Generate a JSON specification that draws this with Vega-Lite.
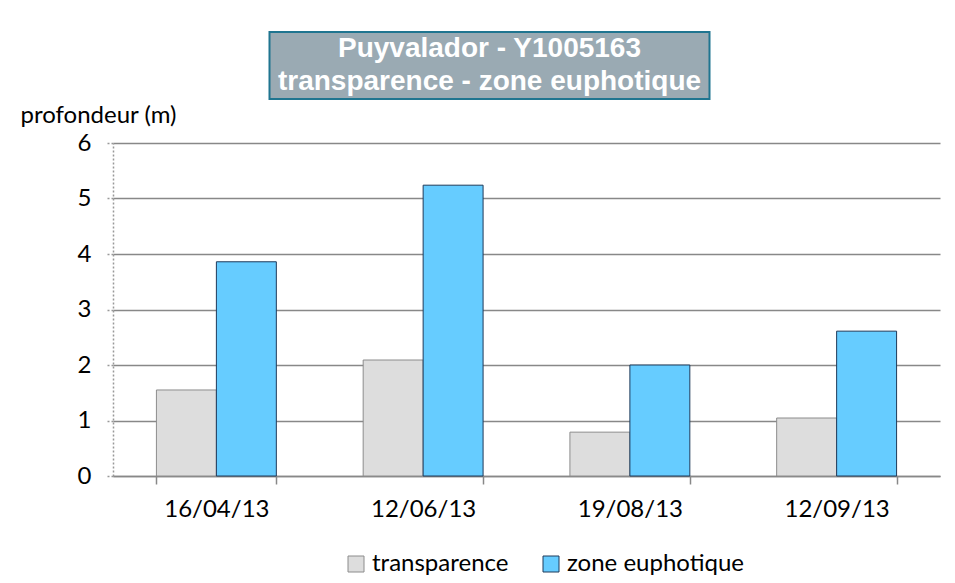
{
  "$schema": "https://vega.github.io/schema/vega-lite/v6.json",
  "padding": {"left": 20, "top": 31, "right": 10, "bottom": 0},
  "autosize": {"type": "pad"},
  "background": "white",
  "center": true,
  "spacing": 3,
  "config": {
    "font": "Lato",
    "view": {"stroke": null},
    "legend": {
      "direction": "horizontal",
      "symbolType": "square",
      "symbolSize": 256,
      "symbolStrokeWidth": 1,
      "labelFont": "Lato",
      "labelFontSize": 24,
      "labelColor": "#000000",
      "labelLimit": 400,
      "columnPadding": 30,
      "title": null
    }
  },
  "vconcat": [
    {
      "spacing": 0,
      "hconcat": [
        {
          "width": 440,
          "height": 67,
          "view": {"fill": "#9AAAB3", "stroke": "#1F7590", "strokeWidth": 2},
          "data": {"values": [
            {"line": 1, "text": "Puyvalador - Y1005163"},
            {"line": 2, "text": "transparence - zone euphotique"}
          ]},
          "mark": {"type": "text", "font": "Liberation Sans", "fontWeight": "bold", "fontSize": 28, "color": "#FFFFFF"},
          "encoding": {
            "y": {"field": "line", "type": "ordinal", "axis": null},
            "text": {"field": "text", "type": "nominal"}
          }
        },
        {
          "width": 73,
          "height": 67,
          "data": {"values": []},
          "mark": {"type": "text"},
          "encoding": {}
        }
      ]
    },
    {
      "width": 827,
      "height": 333,
      "data": {"values": [
        {"date": "16/04/13", "series": "transparence", "value": 1.55},
        {"date": "16/04/13", "series": "zone euphotique", "value": 3.86},
        {"date": "12/06/13", "series": "transparence", "value": 2.09},
        {"date": "12/06/13", "series": "zone euphotique", "value": 5.24},
        {"date": "19/08/13", "series": "transparence", "value": 0.79},
        {"date": "19/08/13", "series": "zone euphotique", "value": 2.0},
        {"date": "12/09/13", "series": "transparence", "value": 1.045},
        {"date": "12/09/13", "series": "zone euphotique", "value": 2.61}
      ]},
      "mark": {"type": "bar", "strokeWidth": 1},
      "encoding": {
        "x": {
          "field": "date", "type": "nominal", "sort": null,
          "scale": {"paddingInner": 0.42, "paddingOuter": 0.21},
          "axis": {
            "title": null, "labelAngle": 0, "tickBand": "extent",
            "domainColor": "#888888", "domainWidth": 1.5,
            "tickColor": "#888888", "tickWidth": 1.5, "tickSize": 8,
            "labelFontSize": 24, "labelPadding": 13, "labelColor": "#000000",
            "grid": false
          }
        },
        "xOffset": {
          "field": "series", "type": "nominal",
          "sort": ["transparence", "zone euphotique"],
          "scale": {"paddingInner": 0, "paddingOuter": 0}
        },
        "y": {
          "field": "value", "type": "quantitative",
          "scale": {"domain": [0, 6]},
          "axis": {
            "values": [0, 1, 2, 3, 4, 5, 6],
            "grid": true, "gridColor": "#888888", "gridWidth": 1.5,
            "domain": true, "domainColor": "#999999", "domainDash": [2, 2], "domainWidth": 1.5,
            "ticks": true, "tickColor": "#999999", "tickDash": [2, 2], "tickSize": 8, "tickWidth": 1.5,
            "labelFontSize": 24, "labelPadding": 14, "labelColor": "#000000",
            "title": "profondeur (m)", "titleAngle": 0, "titleAlign": "left",
            "titleBaseline": "top", "titleX": -93, "titleY": -40,
            "titleFontSize": 24, "titleFontWeight": "normal", "titleColor": "#000000"
          }
        },
        "fill": {
          "field": "series", "type": "nominal",
          "scale": {"domain": ["transparence", "zone euphotique"], "range": ["#DDDDDD", "#66CCFF"]},
          "legend": {"orient": "none", "legendX": 231, "legendY": 520, "direction": "horizontal"}
        },
        "stroke": {
          "field": "series", "type": "nominal",
          "scale": {"domain": ["transparence", "zone euphotique"], "range": ["#8C8C8C", "#1F3A5A"]},
          "legend": {"orient": "none", "legendX": 231, "legendY": 520, "direction": "horizontal"}
        }
      }
    }
  ]
}
